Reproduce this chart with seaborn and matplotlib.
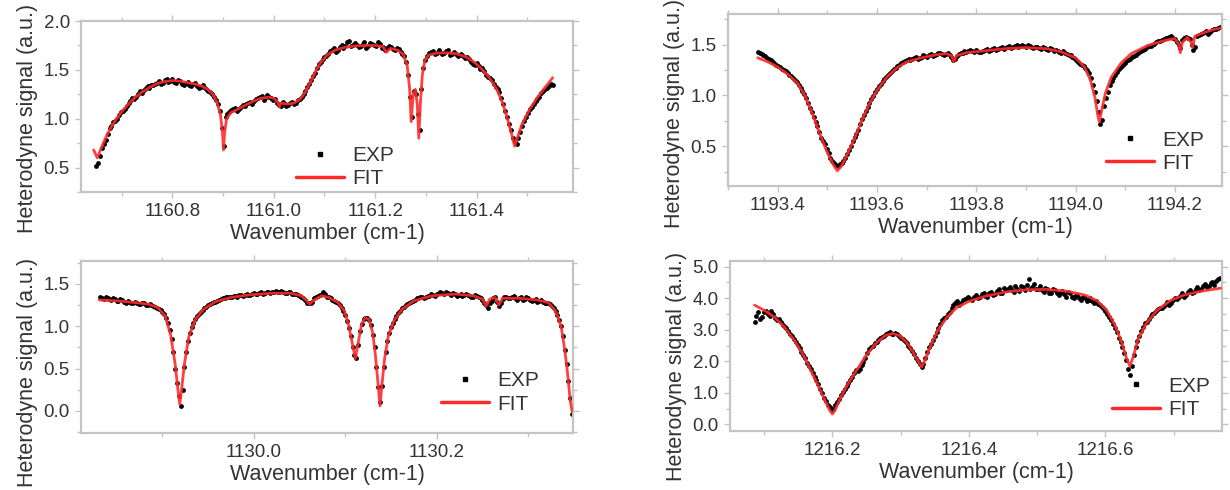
import numpy as np
import pandas as pd
import matplotlib
matplotlib.use("Agg")
import matplotlib.pyplot as plt
import seaborn as sns
from matplotlib.ticker import MultipleLocator, FormatStrFormatter
from matplotlib.lines import Line2D

# ---------------- data ----------------
# Panel A (top-left): EXP sampled on a uniform grid, plus interleaved mid-grid samples
a_exp_start, a_exp_stop = 1160.650, 1161.550
a_exp_s = [
    0.52, 0.62, 0.74, 0.84, 0.93, 0.98, 1.04, 1.08, 1.13, 1.18,
    1.20, 1.25, 1.26, 1.31, 1.31, 1.35, 1.37, 1.36, 1.40, 1.38,
    1.41, 1.37, 1.39, 1.35, 1.38, 1.33, 1.37, 1.31, 1.34, 1.29,
    1.27, 1.22, 1.15, 0.90, 1.02, 1.07, 1.10, 1.08, 1.12, 1.13,
    1.16, 1.15, 1.20, 1.22, 1.19, 1.24, 1.21, 1.20, 1.14, 1.17,
    1.13, 1.16, 1.15, 1.19, 1.22, 1.28, 1.36, 1.44, 1.52, 1.58,
    1.63, 1.66, 1.70, 1.68, 1.73, 1.72, 1.78, 1.74, 1.77, 1.73,
    1.76, 1.72, 1.77, 1.75, 1.78, 1.72, 1.70, 1.74, 1.71, 1.72,
    1.68, 1.64, 1.45, 1.02, 1.25, 0.88, 1.52, 1.64, 1.68, 1.66,
    1.70, 1.66, 1.69, 1.65, 1.68, 1.64, 1.66, 1.62, 1.61, 1.56,
    1.57, 1.51, 1.49, 1.43, 1.40, 1.32, 1.27, 1.15, 1.02, 0.88,
    0.76, 0.80, 0.93, 1.02, 1.10, 1.15, 1.20, 1.26, 1.30, 1.33,
    1.35,
]
a_exp_mid = [
    0.55, 0.70, 0.78, 0.90, 0.97, 1.00, 1.07, 1.10, 1.16, 1.21,
    1.22, 1.28, 1.29, 1.33, 1.34, 1.36, 1.39, 1.37, 1.41, 1.39,
    1.38, 1.40, 1.36, 1.37, 1.35, 1.36, 1.33, 1.32, 1.31, 1.28,
    1.25, 1.19, 1.08, 0.72, 1.05, 1.09, 1.11, 1.10, 1.14, 1.15,
    1.17, 1.18, 1.21, 1.23, 1.21, 1.22, 1.19, 1.16, 1.13, 1.15,
    1.14, 1.17, 1.16, 1.20, 1.25, 1.32, 1.40, 1.47, 1.56, 1.61,
    1.64, 1.69, 1.72, 1.70, 1.75, 1.74, 1.80, 1.75, 1.75, 1.74,
    1.78, 1.74, 1.76, 1.74, 1.76, 1.73, 1.72, 1.73, 1.70, 1.71,
    1.66, 1.58, 1.22, 1.28, 1.05, 1.30, 1.60, 1.67, 1.69, 1.67,
    1.68, 1.67, 1.70, 1.66, 1.66, 1.65, 1.64, 1.63, 1.58, 1.55,
    1.54, 1.52, 1.45, 1.42, 1.36, 1.30, 1.21, 1.08, 0.95, 0.80,
    0.74, 0.86, 0.98, 1.06, 1.12, 1.18, 1.22, 1.28, 1.31, 1.36,
]
a_fit_w = [1160.645, 1160.652, 1160.660, 1160.670, 1160.680, 1160.690, 1160.700, 1160.712,
           1160.725, 1160.740, 1160.755, 1160.770, 1160.785, 1160.800, 1160.815, 1160.830,
           1160.845, 1160.860, 1160.870, 1160.880, 1160.888, 1160.895, 1160.899, 1160.901,
           1160.903, 1160.907, 1160.915, 1160.930, 1160.945, 1160.960, 1160.975, 1160.990,
           1161.000, 1161.008, 1161.011, 1161.014, 1161.025, 1161.040, 1161.052, 1161.062,
           1161.072, 1161.082, 1161.092, 1161.105, 1161.120, 1161.140, 1161.160, 1161.180,
           1161.200, 1161.215, 1161.222, 1161.230, 1161.245, 1161.255, 1161.263, 1161.268,
           1161.271, 1161.275, 1161.279, 1161.283, 1161.286, 1161.289, 1161.293, 1161.298,
           1161.305, 1161.320, 1161.340, 1161.360, 1161.380, 1161.395, 1161.410, 1161.425,
           1161.440, 1161.452, 1161.462, 1161.470, 1161.475, 1161.480, 1161.490, 1161.505,
           1161.520, 1161.535, 1161.550]
a_fit_s = [0.68, 0.60, 0.70, 0.82, 0.92, 1.00, 1.07, 1.14,
           1.21, 1.27, 1.32, 1.36, 1.38, 1.39, 1.385, 1.37,
           1.355, 1.33, 1.30, 1.25, 1.17, 1.04, 0.85, 0.68,
           0.85, 1.00, 1.06, 1.10, 1.14, 1.18, 1.21, 1.22,
           1.21, 1.17, 1.12, 1.16, 1.15, 1.16, 1.20, 1.27,
           1.37, 1.48, 1.57, 1.65, 1.70, 1.73, 1.745, 1.75,
           1.75, 1.74, 1.68, 1.72, 1.70, 1.66, 1.55, 1.30,
           0.97, 1.25, 1.30, 1.15, 0.80, 1.15, 1.45, 1.60,
           1.65, 1.67, 1.675, 1.665, 1.63, 1.58, 1.51, 1.42,
           1.30, 1.15, 0.98, 0.82, 0.72, 0.80, 0.95, 1.10,
           1.22, 1.32, 1.42]

# Panel B (top-right)
b_exp_start, b_exp_stop = 1193.360, 1194.290
b_exp_s = [
    1.43, 1.41, 1.39, 1.36, 1.33, 1.30, 1.28, 1.25, 1.22, 1.19,
    1.15, 1.10, 1.04, 0.97, 0.88, 0.79, 0.70, 0.58, 0.52, 0.43,
    0.36, 0.32, 0.33, 0.36, 0.42, 0.50, 0.59, 0.66, 0.77, 0.85,
    0.93, 0.99, 1.06, 1.11, 1.16, 1.20, 1.24, 1.27, 1.30, 1.33,
    1.35, 1.35, 1.37, 1.36, 1.38, 1.39, 1.40, 1.39, 1.41, 1.42,
    1.40, 1.42, 1.38, 1.36, 1.41, 1.42, 1.43, 1.45, 1.43, 1.44,
    1.43, 1.45, 1.44, 1.46, 1.45, 1.47, 1.46, 1.48, 1.47, 1.49,
    1.48, 1.50, 1.48, 1.49, 1.47, 1.48, 1.46, 1.47, 1.45, 1.46,
    1.45, 1.43, 1.44, 1.41, 1.40, 1.37, 1.33, 1.30, 1.27, 1.22,
    1.10, 0.95, 0.72, 0.90, 1.03, 1.14, 1.20, 1.26, 1.30, 1.34,
    1.36, 1.39, 1.42, 1.44, 1.46, 1.49, 1.50, 1.52, 1.53, 1.55,
    1.56, 1.58, 1.55, 1.50, 1.54, 1.57, 1.55, 1.45, 1.58, 1.60,
    1.62, 1.60, 1.64, 1.65, 1.67,
]
b_exp_mid = [
    1.42, 1.40, 1.37, 1.35, 1.31, 1.29, 1.26, 1.24, 1.20, 1.17,
    1.13, 1.07, 1.01, 0.93, 0.84, 0.74, 0.64, 0.55, 0.47, 0.39,
    0.34, 0.31, 0.34, 0.39, 0.46, 0.55, 0.62, 0.72, 0.81, 0.89,
    0.96, 1.03, 1.09, 1.14, 1.18, 1.22, 1.26, 1.29, 1.32, 1.34,
    1.36, 1.36, 1.38, 1.37, 1.40, 1.38, 1.41, 1.40, 1.42, 1.41,
    1.41, 1.40, 1.35, 1.39, 1.42, 1.44, 1.44, 1.44, 1.45, 1.43,
    1.44, 1.46, 1.45, 1.47, 1.46, 1.48, 1.47, 1.49, 1.48, 1.50,
    1.49, 1.49, 1.50, 1.48, 1.48, 1.47, 1.48, 1.46, 1.47, 1.44,
    1.44, 1.42, 1.42, 1.40, 1.38, 1.35, 1.31, 1.29, 1.25, 1.17,
    1.03, 0.84, 0.76, 0.97, 1.10, 1.17, 1.23, 1.28, 1.32, 1.35,
    1.38, 1.40, 1.43, 1.45, 1.48, 1.49, 1.51, 1.53, 1.54, 1.56,
    1.57, 1.56, 1.52, 1.47, 1.56, 1.56, 1.50, 1.48, 1.59, 1.61,
    1.63, 1.62, 1.65, 1.66,
]
b_fit_w = [1193.360, 1193.380, 1193.400, 1193.420, 1193.440, 1193.455, 1193.470, 1193.485,
           1193.500, 1193.512, 1193.520, 1193.528, 1193.540, 1193.555, 1193.570, 1193.585,
           1193.600, 1193.620, 1193.640, 1193.660, 1193.690, 1193.720, 1193.740, 1193.750,
           1193.755, 1193.760, 1193.780, 1193.820, 1193.860, 1193.900, 1193.940, 1193.970,
           1194.000, 1194.018, 1194.030, 1194.039, 1194.045, 1194.048, 1194.052, 1194.060,
           1194.072, 1194.092, 1194.112, 1194.145, 1194.180, 1194.200, 1194.208, 1194.211,
           1194.215, 1194.225, 1194.233, 1194.236, 1194.240, 1194.260, 1194.280, 1194.292]
b_fit_s = [1.37, 1.33, 1.28, 1.21, 1.12, 1.00, 0.82, 0.62,
           0.44, 0.32, 0.26, 0.30, 0.42, 0.58, 0.76, 0.92,
           1.05, 1.18, 1.27, 1.33, 1.37, 1.40, 1.41, 1.39,
           1.33, 1.39, 1.42, 1.44, 1.46, 1.47, 1.46, 1.43,
           1.37, 1.28, 1.15, 0.98, 0.80, 0.74, 0.84, 1.02,
           1.18, 1.32, 1.41, 1.49, 1.54, 1.56, 1.50, 1.42,
           1.52, 1.57, 1.52, 1.47, 1.58, 1.62, 1.65, 1.66]

# Panel C (bottom-left)
c_exp_start, c_exp_stop = 1129.832, 1130.348
c_exp_s = [
    1.34, 1.32, 1.33, 1.31, 1.32, 1.30, 1.31, 1.28, 1.29, 1.27,
    1.28, 1.26, 1.27, 1.25, 1.25, 1.23, 1.20, 1.17, 1.10, 0.95,
    0.70, 0.33, 0.06, 0.52, 0.83, 0.99, 1.08, 1.15, 1.19, 1.23,
    1.26, 1.29, 1.30, 1.32, 1.33, 1.35, 1.34, 1.36, 1.37, 1.36,
    1.38, 1.37, 1.39, 1.38, 1.40, 1.39, 1.41, 1.40, 1.42, 1.40,
    1.41, 1.39, 1.40, 1.38, 1.37, 1.35, 1.31, 1.27, 1.29, 1.35,
    1.37, 1.40, 1.35, 1.33, 1.30, 1.27, 1.22, 1.13, 0.98, 0.76,
    0.63, 0.94, 1.08, 1.10, 1.02, 0.76, 0.28, 0.30, 0.70, 0.92,
    1.04, 1.12, 1.18, 1.23, 1.26, 1.29, 1.31, 1.33, 1.35, 1.34,
    1.36, 1.37, 1.38, 1.40, 1.38, 1.39, 1.37, 1.38, 1.37, 1.36,
    1.38, 1.36, 1.35, 1.36, 1.33, 1.28, 1.22, 1.30, 1.34, 1.24,
    1.32, 1.35, 1.33, 1.36, 1.31, 1.34, 1.32, 1.33, 1.30, 1.32,
    1.30, 1.29, 1.28, 1.26, 1.22, 1.13, 1.00, 0.72, 0.35, -0.03,
]
c_exp_mid = [
    1.33, 1.34, 1.32, 1.33, 1.30, 1.32, 1.29, 1.30, 1.27, 1.29,
    1.26, 1.28, 1.25, 1.26, 1.24, 1.22, 1.19, 1.14, 1.04, 0.85,
    0.50, 0.18, 0.25, 0.70, 0.92, 1.04, 1.12, 1.17, 1.21, 1.25,
    1.28, 1.29, 1.31, 1.33, 1.34, 1.34, 1.36, 1.35, 1.37, 1.37,
    1.37, 1.38, 1.38, 1.39, 1.38, 1.40, 1.39, 1.41, 1.40, 1.42,
    1.39, 1.40, 1.38, 1.38, 1.36, 1.33, 1.28, 1.27, 1.33, 1.36,
    1.38, 1.38, 1.34, 1.31, 1.29, 1.25, 1.18, 1.06, 0.88, 0.66,
    0.78, 1.03, 1.10, 1.07, 0.90, 0.52, 0.10, 0.52, 0.83, 0.99,
    1.09, 1.16, 1.21, 1.25, 1.28, 1.30, 1.33, 1.34, 1.33, 1.36,
    1.38, 1.36, 1.39, 1.39, 1.40, 1.38, 1.39, 1.36, 1.38, 1.37,
    1.37, 1.35, 1.37, 1.34, 1.31, 1.25, 1.27, 1.33, 1.29, 1.27,
    1.34, 1.33, 1.35, 1.33, 1.33, 1.31, 1.34, 1.31, 1.31, 1.29,
    1.31, 1.28, 1.27, 1.24, 1.18, 1.07, 0.88, 0.55, 0.15,
]
c_fit_w = [1129.831, 1129.850, 1129.870, 1129.885, 1129.895, 1129.903, 1129.909, 1129.914,
           1129.917, 1129.919, 1129.921, 1129.924, 1129.929, 1129.936, 1129.945, 1129.958,
           1129.975, 1129.995, 1130.020, 1130.040, 1130.052, 1130.058, 1130.061, 1130.066,
           1130.074, 1130.082, 1130.092, 1130.099, 1130.104, 1130.108, 1130.111, 1130.114,
           1130.118, 1130.122, 1130.126, 1130.130, 1130.133, 1130.136, 1130.138, 1130.140,
           1130.143, 1130.147, 1130.153, 1130.162, 1130.175, 1130.195, 1130.220, 1130.240,
           1130.250, 1130.254, 1130.258, 1130.264, 1130.268, 1130.272, 1130.290, 1130.310,
           1130.322, 1130.330, 1130.336, 1130.340, 1130.343, 1130.346, 1130.348, 1130.352]
c_fit_s = [1.31, 1.30, 1.28, 1.26, 1.22, 1.12, 0.90, 0.55,
           0.25, 0.08, 0.25, 0.55, 0.88, 1.08, 1.20, 1.29,
           1.34, 1.37, 1.39, 1.39, 1.36, 1.30, 1.26, 1.31,
           1.36, 1.34, 1.28, 1.18, 1.00, 0.78, 0.62, 0.80,
           1.03, 1.10, 1.08, 0.92, 0.65, 0.30, 0.06, 0.30,
           0.62, 0.88, 1.06, 1.20, 1.30, 1.36, 1.38, 1.36,
           1.32, 1.24, 1.32, 1.34, 1.25, 1.33, 1.33, 1.31,
           1.28, 1.18, 1.00, 0.72, 0.45, 0.12, 0.00, 0.00]

# Panel D (bottom-right)
d_exp_start, d_exp_stop = 1216.086, 1216.768
d_exp_s = [
    3.25, 3.55, 3.40, 3.60, 3.45, 3.50, 3.30, 3.25, 3.10, 2.95,
    2.80, 2.60, 2.42, 2.20, 1.95, 1.75, 1.50, 1.28, 0.98, 0.75,
    0.55, 0.50, 0.70, 0.92, 1.12, 1.30, 1.50, 1.72, 1.75, 1.98,
    2.25, 2.45, 2.58, 2.68, 2.78, 2.85, 2.92, 2.87, 2.85, 2.75,
    2.65, 2.50, 2.32, 2.12, 1.90, 1.90, 2.30, 2.55, 2.80, 3.05,
    3.30, 3.40, 3.55, 3.80, 3.90, 3.85, 3.98, 4.05, 3.95, 4.10,
    4.05, 4.15, 4.05, 4.20, 4.12, 4.30, 4.15, 4.25, 4.35, 4.20,
    4.30, 4.40, 4.25, 4.60, 4.35, 4.28, 4.38, 4.20, 4.30, 4.15,
    4.25, 4.10, 4.22, 4.05, 4.15, 4.00, 4.10, 3.95, 4.02, 3.95,
    3.90, 3.92, 3.78, 3.65, 3.50, 3.30, 3.05, 2.75, 2.45, 2.05,
    1.55, 2.20, 2.65, 2.95, 3.20, 3.35, 3.50, 3.58, 3.70, 3.75,
    3.88, 3.85, 4.00, 4.05, 4.15, 4.10, 4.25, 4.20, 4.35, 4.30,
    4.45, 4.40, 4.50, 4.55, 4.65,
]
d_exp_mid = [
    3.45, 3.35, 3.55, 3.50, 3.58, 3.38, 3.35, 3.15, 3.05, 2.88,
    2.70, 2.52, 2.30, 2.10, 1.85, 1.62, 1.40, 1.12, 0.85, 0.62,
    0.45, 0.60, 0.80, 1.02, 1.22, 1.40, 1.62, 1.68, 1.88, 2.10,
    2.38, 2.50, 2.62, 2.75, 2.80, 2.90, 2.88, 2.90, 2.80, 2.70,
    2.58, 2.42, 2.22, 2.00, 1.82, 2.10, 2.45, 2.68, 2.92, 3.18,
    3.38, 3.50, 3.68, 3.85, 3.80, 3.95, 4.00, 3.98, 4.05, 4.00,
    4.12, 4.08, 4.18, 4.10, 4.22, 4.18, 4.32, 4.28, 4.25, 4.38,
    4.22, 4.35, 4.42, 4.30, 4.45, 4.30, 4.25, 4.32, 4.18, 4.28,
    4.18, 4.15, 4.12, 4.20, 4.05, 4.08, 4.00, 4.05, 3.92, 4.00,
    3.85, 3.82, 3.72, 3.58, 3.42, 3.18, 2.92, 2.60, 2.25, 1.75,
    1.85, 2.45, 2.80, 3.10, 3.25, 3.45, 3.52, 3.65, 3.68, 3.82,
    3.80, 3.95, 3.98, 4.10, 4.05, 4.20, 4.15, 4.30, 4.25, 4.38,
    4.35, 4.48, 4.42, 4.60,
]
d_fit_w = [1216.086, 1216.100, 1216.115, 1216.130, 1216.145, 1216.160, 1216.172, 1216.182,
           1216.190, 1216.196, 1216.200, 1216.204, 1216.212, 1216.222, 1216.235, 1216.250,
           1216.265, 1216.278, 1216.288, 1216.298, 1216.308, 1216.318, 1216.326, 1216.331,
           1216.336, 1216.345, 1216.355, 1216.368, 1216.382, 1216.400, 1216.425, 1216.455,
           1216.485, 1216.515, 1216.545, 1216.570, 1216.588, 1216.602, 1216.614, 1216.624,
           1216.631, 1216.636, 1216.641, 1216.648, 1216.660, 1216.675, 1216.695, 1216.715,
           1216.740, 1216.769]
d_fit_s = [3.78, 3.62, 3.40, 3.08, 2.65, 2.10, 1.55, 1.10,
           0.72, 0.45, 0.33, 0.45, 0.85, 1.25, 1.70, 2.20,
           2.60, 2.82, 2.88, 2.82, 2.62, 2.30, 2.00, 1.82,
           2.05, 2.55, 3.00, 3.40, 3.70, 3.90, 4.07, 4.20,
           4.27, 4.28, 4.22, 4.10, 3.92, 3.62, 3.15, 2.60,
           2.10, 1.85, 2.15, 2.70, 3.20, 3.60, 3.92, 4.10,
           4.22, 4.32]

x_label = "Wavenumber (cm-1)"
y_label = "Heterodyne signal (a.u.)"
legend_labels = ["EXP", "FIT"]

# ---------------- style ----------------
sns.set_style("ticks")
plt.rcParams["font.family"] = ["Liberation Sans", "DejaVu Sans"]
TXT = "#333333"
GRID = "#c4c4c4"
RED = "#ff2b2b"

fig = plt.figure(figsize=(12.3, 4.9), dpi=100)

panels = [
    dict(rect=[0.06585, 0.60816, 0.4000, 0.34898],
         exp=(a_exp_start, a_exp_stop, a_exp_s, a_exp_mid), fit=(a_fit_w, a_fit_s),
         xlim=(1160.62, 1161.59), ylim=(0.25, 2.0), ymaj=0.5, ymin=0.25,
         leg=(0.415, 0.145), ylab_y=0.43),
    dict(rect=[0.59187, 0.62041, 0.40163, 0.35102],
         exp=(b_exp_start, b_exp_stop, b_exp_s, b_exp_mid), fit=(b_fit_w, b_fit_s),
         xlim=(1193.30, 1194.295), ylim=(0.11, 1.80), ymaj=0.5, ymin=0.25,
         leg=(0.745, 0.20), ylab_y=0.42),
    dict(rect=[0.06585, 0.11633, 0.4000, 0.35102],
         exp=(c_exp_start, c_exp_stop, c_exp_s, c_exp_mid), fit=(c_fit_w, c_fit_s),
         xlim=(1129.811, 1130.349), ylim=(-0.26, 1.77), ymaj=0.5, ymin=0.25,
         leg=(0.71, 0.235), ylab_y=0.35),
    dict(rect=[0.59350, 0.12041, 0.4000, 0.34694],
         exp=(d_exp_start, d_exp_stop, d_exp_s, d_exp_mid), fit=(d_fit_w, d_fit_s),
         xlim=(1216.05, 1216.771), ylim=(-0.21, 5.18), ymaj=1.0, ymin=0.5,
         leg=(0.755, 0.195), ylab_y=0.38),
]

for p in panels:
    ax = fig.add_axes(p["rect"])
    start, stop, vals, mids = p["exp"]
    half = (stop - start) / (len(vals) - 1) / 2
    w_main = np.linspace(start, stop, len(vals))
    w_mid = np.linspace(start + half, stop - half, len(mids))
    df_exp = pd.DataFrame({"w": np.concatenate([w_main, w_mid]),
                           "s": list(vals) + list(mids)})
    df_fit = pd.DataFrame({"w": p["fit"][0], "s": p["fit"][1]})
    sns.scatterplot(data=df_exp, x="w", y="s", ax=ax, color="black", s=12,
                    linewidth=0, marker="o", legend=False, zorder=2)
    sns.lineplot(data=df_fit, x="w", y="s", ax=ax, color=RED, lw=2.0,
                 estimator=None, sort=False, legend=False, zorder=3, alpha=0.9)
    ax.set_xlim(*p["xlim"])
    ax.set_ylim(*p["ylim"])
    ax.xaxis.set_major_locator(MultipleLocator(0.2))
    ax.xaxis.set_minor_locator(MultipleLocator(0.1))
    ax.yaxis.set_major_locator(MultipleLocator(p["ymaj"]))
    ax.yaxis.set_minor_locator(MultipleLocator(p["ymin"]))
    ax.xaxis.set_major_formatter(FormatStrFormatter("%.1f"))
    ax.yaxis.set_major_formatter(FormatStrFormatter("%.1f"))
    for sp in ax.spines.values():
        sp.set_visible(True)
        sp.set_color(GRID)
        sp.set_linewidth(1.6)
    ax.tick_params(which="both", direction="out", color=GRID, width=1.0,
                   top=True, right=True, labelcolor=TXT, labelsize=13.5, pad=4)
    ax.tick_params(which="major", length=4)
    ax.tick_params(which="minor", length=3)
    ax.set_xlabel(x_label, fontsize=15.5, color=TXT, labelpad=2)
    ax.set_ylabel(y_label, fontsize=15.5, color=TXT, labelpad=4)
    ax.yaxis.label.set_y(p["ylab_y"])
    handles = [
        Line2D([], [], marker="s", color="black", linestyle="none", markersize=3.2),
        Line2D([], [], color=RED, lw=2.5),
    ]
    ax.legend(handles, legend_labels, loc="center left", bbox_to_anchor=p["leg"],
              frameon=False, fontsize=15, handlelength=2.3, handletextpad=0.4,
              labelspacing=0.2, borderpad=0.0, labelcolor=TXT)

fig.savefig("out.png", dpi=100)
